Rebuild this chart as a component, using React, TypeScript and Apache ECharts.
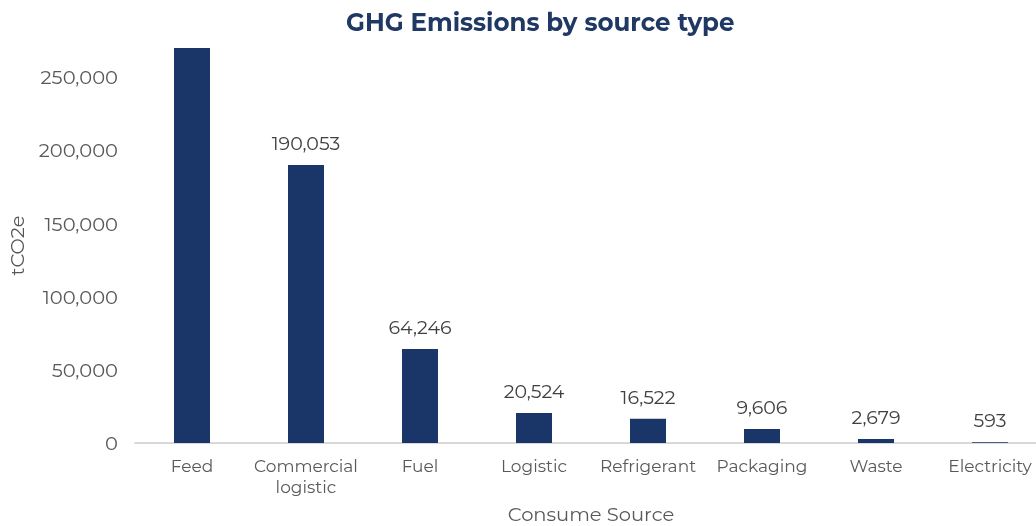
import React, { useEffect, useRef } from "react";
import * as echarts from "echarts";

const categories = ["Feed", "Commercial logistic", "Fuel", "Logistic", "Refrigerant", "Packaging", "Waste", "Electricity"];
// Feed's bar runs above the top of the axis in the original; its real value is not shown.
const values = [300000, 190053, 64246, 20524, 16522, 9606, 2679, 593];
const hiddenLabels = ["Feed"];

const FONT = "Montserrat, 'Open Sans', 'Noto Sans', sans-serif";

export default function App() {
  const ref = useRef<HTMLDivElement>(null);
  useEffect(() => {
    document.body.style.margin = "0";
    document.documentElement.style.overflow = "hidden";
    const chart = echarts.init(ref.current!, undefined, { renderer: "svg" });
    chart.setOption({
      animation: false,
      textStyle: { fontFamily: FONT },
      title: {
        text: "GHG Emissions by source type",
        left: 341,
        top: 4,
        textStyle: { fontFamily: FONT, fontSize: 24.5, fontWeight: "bold", color: "#1f3864" },
      },
      grid: { left: 135, top: 48, width: 912, height: 395, containLabel: false, outerBoundsMode: "none" },
      xAxis: {
        type: "category",
        data: categories,
        name: "Consume Source",
        nameLocation: "middle",
        nameGap: 61,
        nameTextStyle: { fontSize: 19.5, color: "#595959", fontFamily: FONT },
        axisLine: { lineStyle: { color: "#d9d9d9", width: 2 } },
        axisTick: { show: false },
        axisLabel: {
          fontSize: 17,
          color: "#595959",
          margin: 12,
          lineHeight: 21,
          interval: 0,
          formatter: (v: string) => v.replace("Commercial ", "Commercial\n"),
        },
      },
      yAxis: {
        type: "value",
        min: 0,
        max: 270000,
        interval: 50000,
        name: "tCO2e",
        nameLocation: "middle",
        nameGap: 108,
        nameTextStyle: { fontSize: 19.5, color: "#595959", fontFamily: FONT },
        axisLine: { show: false },
        axisTick: { show: false },
        splitLine: { show: false },
        axisLabel: {
          fontSize: 19.5,
          color: "#595959",
          margin: 17,
          showMaxLabel: false,
          formatter: (v: number) => v.toLocaleString("en-US"),
        },
      },
      series: [
        {
          type: "bar",
          barWidth: 36,
          clip: true,
          itemStyle: { color: "#1a3668" },
          data: categories.map((c, i) => ({
            value: values[i],
            label: { show: !hiddenLabels.includes(c) },
          })),
          label: {
            show: true,
            position: "top",
            distance: 12,
            fontSize: 19,
            color: "#404040",
            formatter: (p: any) => Number(p.value).toLocaleString("en-US"),
          },
        },
      ],
    });
    return () => chart.dispose();
  }, []);
  return <div ref={ref} style={{ position: "fixed", left: 0, top: 0, width: 1036, height: 526 }} />;
}
